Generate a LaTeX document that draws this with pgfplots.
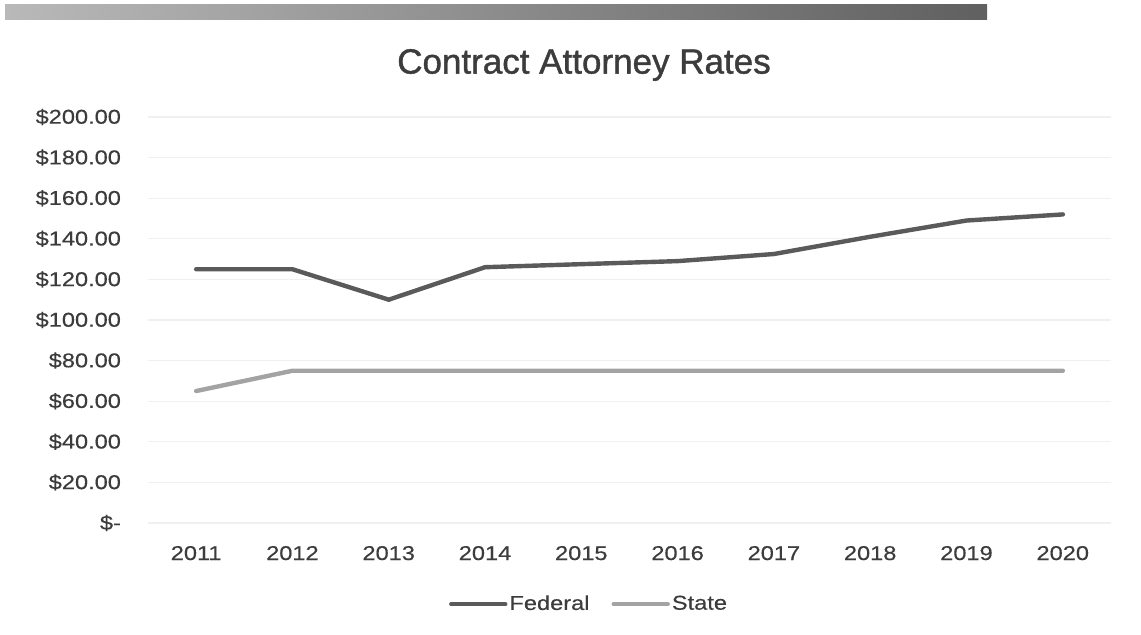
\documentclass[border=0pt]{standalone}
\usepackage{fontspec}
\setmainfont{Liberation Sans}
\newfontfamily\tickfont[FakeStretch=1.18,FakeBold=0.4]{Liberation Sans}
\newfontfamily\titlefont[FakeBold=1.2]{Liberation Sans}
\usepackage{pgfplots}
\pgfplotsset{compat=1.18}
\definecolor{fed}{HTML}{5A5A5A}
\definecolor{sta}{HTML}{A3A3A3}
\definecolor{txt}{HTML}{3C3C3C}
\begin{document}
\begin{tikzpicture}
\useasboundingbox (0,0) rectangle (570.5pt,317.5pt);
\shade[left color=gray!55, right color=gray!75!black] (2.5pt,307.5pt) rectangle (493.5pt,315pt);
\node[text=txt, font=\titlefont\fontsize{17.5}{20}\selectfont] at (292pt,285pt) {Contract Attorney Rates};
\begin{axis}[
  at={(74pt,56pt)}, anchor=south west,
  scale only axis, width=481.5pt, height=203pt,
  xmin=2010.5, xmax=2020.5, ymin=0, ymax=200,
  axis line style={draw=none},
  major tick length=0pt,
  xtick={2011,...,2020},
  xticklabels={2011,2012,2013,2014,2015,2016,2017,2018,2019,2020},
  ytick={0,20,...,200},
  yticklabels={\$-\hspace{7pt},\$20.00,\$40.00,\$60.00,\$80.00,\$100.00,\$120.00,\$140.00,\$160.00,\$180.00,\$200.00},
  ymajorgrids, grid style={draw=gray!12, line width=0.6pt},
  tick label style={text=txt, font=\tickfont\fontsize{10}{11}\selectfont},
  yticklabel style={xshift=-10pt},
  xticklabel style={yshift=-8pt},
  legend style={at={(0.458,-0.2)}, anchor=center, draw=none, fill=none,
    legend columns=2, font=\tickfont\fontsize{10}{11}\selectfont, text=txt,
    nodes={inner xsep=1pt},
    /tikz/every even column/.append style={column sep=10pt}},
  legend image code/.code={\draw[#1, line cap=round] (0pt,0pt) -- (27pt,0pt);},
  legend cell align=left,
]
\addplot[fed, line width=2.2pt, line join=round, line cap=round] coordinates {
 (2011,125) (2012,125) (2013,110) (2014,126) (2015,127.5) (2016,129) (2017,132.5) (2018,141) (2019,149) (2020,152)};
\addlegendentry{Federal}
\addplot[sta, line width=2.2pt, line join=round, line cap=round] coordinates {
 (2011,65) (2012,75) (2013,75) (2014,75) (2015,75) (2016,75) (2017,75) (2018,75) (2019,75) (2020,75)};
\addlegendentry{State}
\end{axis}
\end{tikzpicture}
\end{document}
